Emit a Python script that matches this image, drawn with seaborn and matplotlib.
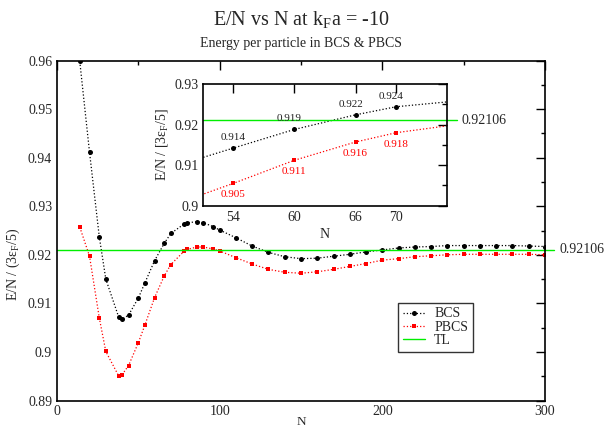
import matplotlib
matplotlib.use("Agg")
import matplotlib.pyplot as plt
import matplotlib.ticker as mticker
import seaborn as sns
import pandas as pd

# ---------------- data ----------------
N = [14, 20, 26, 30, 38, 40, 44, 50, 54, 60, 66, 70, 78, 80, 86, 90, 96, 100,
     110, 120, 130, 140, 150, 160, 170, 180, 190, 200, 210, 220, 230, 240,
     250, 260, 270, 280, 290, 300]
bcs = [0.9598, 0.9411, 0.9237, 0.9150, 0.9071, 0.9067, 0.9076, 0.9111, 0.9142,
       0.9188, 0.9224, 0.9244, 0.9263, 0.9266, 0.9268, 0.9266, 0.9258, 0.9251,
       0.9235, 0.9218, 0.9205, 0.9196, 0.9192, 0.9193, 0.9197, 0.9201, 0.9206,
       0.9210, 0.9214, 0.9216, 0.9217, 0.9219, 0.9219, 0.9219, 0.9219, 0.9219,
       0.9218, 0.9217]
pbcs = [0.9257, 0.9197, 0.9070, 0.9001, 0.8950, 0.8953, 0.8972, 0.9019, 0.9055,
        0.9112, 0.9157, 0.9180, 0.9207, 0.9211, 0.9216, 0.9216, 0.9212, 0.9208,
        0.9194, 0.9181, 0.9170, 0.9164, 0.9162, 0.9165, 0.9170, 0.9176, 0.9182,
        0.9189, 0.9192, 0.9196, 0.9198, 0.9200, 0.9201, 0.9201, 0.9201, 0.9201,
        0.9201, 0.9200]
TL = 0.92106
TL_label = "0.92106"

inset_N = [54, 60, 66, 70]
inset_bcs_labels = ["0.914", "0.919", "0.922", "0.924"]
inset_pbcs_labels = ["0.905", "0.911", "0.916", "0.918"]

main_xticks = [0, 100, 200, 300]
main_yticks = [0.89, 0.90, 0.91, 0.92, 0.93, 0.94, 0.95, 0.96]
inset_xticks = [54, 60, 66, 70]
inset_yticks = [0.90, 0.91, 0.92, 0.93]

df = pd.DataFrame({"N": N, "BCS": bcs, "PBCS": pbcs})

# ---------------- style ----------------
sns.set_theme(style="white")
plt.rcParams["font.family"] = ["Liberation Serif", "DejaVu Serif"]
plt.rcParams["mathtext.fontset"] = "custom"
plt.rcParams["mathtext.rm"] = "Liberation Serif"
plt.rcParams["mathtext.it"] = "Liberation Serif:italic"
plt.rcParams["axes.edgecolor"] = "black"
plt.rcParams["axes.linewidth"] = 1.2

GREEN = "#00ee00"
RED = "#ff0000"

fig = plt.figure(figsize=(6.05, 4.29), dpi=100)
ax = fig.add_axes([57 / 605, 1 - 400.5 / 429, 488 / 605, 340 / 429])


def draw_series(a, lab=True):
    sns.lineplot(data=df, x="N", y="BCS", ax=a, color="black", marker="o",
                 markersize=3.6, markeredgecolor="black", markeredgewidth=0,
                 linestyle=":", linewidth=0.9, label="BCS" if lab else None,
                 legend=False)
    sns.lineplot(data=df, x="N", y="PBCS", ax=a, color=RED, marker="s",
                 markersize=3.3, markeredgecolor=RED, markeredgewidth=0,
                 linestyle=":", linewidth=0.9, label="PBCS" if lab else None,
                 legend=False)


draw_series(ax)
ax.plot([0, 1.0185], [TL, TL], transform=ax.get_yaxis_transform(),
        color=GREEN, lw=1.0, clip_on=False, label="TL")
ax.text(1.03, TL, TL_label, transform=ax.get_yaxis_transform(),
        ha="left", va="center", fontsize=10)

ax.set_xlim(0, 300)
ax.set_ylim(0.89, 0.96)
ax.set_xticks(main_xticks)
ax.set_yticks(main_yticks)
ax.xaxis.set_minor_locator(mticker.MultipleLocator(50))
ax.yaxis.set_minor_locator(mticker.MultipleLocator(0.005))
ax.yaxis.set_major_formatter(mticker.FuncFormatter(lambda v, p: f"{v:.2f}".rstrip("0")))
ax.tick_params(which="both", direction="in", top=True, right=True,
               labelsize=10, width=1.0, color="black")
ax.tick_params(which="major", length=6.7, pad=3.5)
ax.tick_params(which="minor", length=3.2)
ax.set_xlabel("N", fontsize=9.5, labelpad=-1.5)
ax.set_ylabel("E/N / (3ε$_\\mathrm{F}$/5)", fontsize=10)
ax.yaxis.set_label_coords(-0.072, 0.40)

leg = ax.legend(loc="upper left", bbox_to_anchor=(0.699, 0.288),
                borderaxespad=0, fontsize=10, frameon=True, fancybox=False,
                handlelength=1.6, handletextpad=0.65, labelspacing=0.02,
                borderpad=0.35)
leg.get_frame().set_edgecolor("black")
leg.get_frame().set_linewidth(1.0)

fig.text(0.4975, 1 - 25 / 429, "E/N vs N at k$_\\mathrm{F}$a = -10",
         ha="center", va="baseline", fontsize=14.5)
fig.text(0.4975, 1 - 47.5 / 429, "Energy per particle in BCS & PBCS",
         ha="center", va="baseline", fontsize=10)

# ---------------- inset ----------------
ax2 = fig.add_axes([203.3 / 605, 1 - 205.7 / 429, 243.4 / 605, 121.7 / 429])
ax2.set_facecolor("white")
draw_series(ax2, lab=False)
ax2.plot([0, 1.042], [TL, TL], transform=ax2.get_yaxis_transform(),
         color=GREEN, lw=1.0, clip_on=False)
ax2.text(1.062, TL, TL_label, transform=ax2.get_yaxis_transform(),
         ha="left", va="center", fontsize=10)
ax2.set_xlim(51.06, 74.95)
ax2.set_ylim(0.90, 0.93)
ax2.set_xticks(inset_xticks)
ax2.set_yticks(inset_yticks)
ax2.yaxis.set_minor_locator(mticker.MultipleLocator(0.005))
ax2.yaxis.set_major_formatter(mticker.FuncFormatter(lambda v, p: f"{v:.2f}".rstrip("0")))
ax2.tick_params(which="both", direction="in", top=True, right=True,
                labelsize=10, width=1.0, color="black")
ax2.tick_params(which="major", length=6.5, pad=3.5)
ax2.tick_params(which="minor", length=3.5)
ax2.set_xlabel("N", fontsize=10, labelpad=3)
ax2.set_ylabel("E/N / [3ε$_\\mathrm{F}$/5]", fontsize=10, labelpad=3)

bcs_map = dict(zip(N, bcs))
pbcs_map = dict(zip(N, pbcs))
bcs_dx = [0, -5, -5, -5]
for n, lab, dx in zip(inset_N, inset_bcs_labels, bcs_dx):
    ax2.annotate(lab, (n, bcs_map[n]), xytext=(dx, 6), textcoords="offset pixels",
                 ha="center", va="bottom", fontsize=8, color="#222222")
for n, lab in zip(inset_N, inset_pbcs_labels):
    ax2.annotate(lab, (n, pbcs_map[n]), xytext=(0, -7), textcoords="offset pixels",
                 ha="center", va="top", fontsize=8, color=RED)

fig.savefig("out.png", dpi=100)
